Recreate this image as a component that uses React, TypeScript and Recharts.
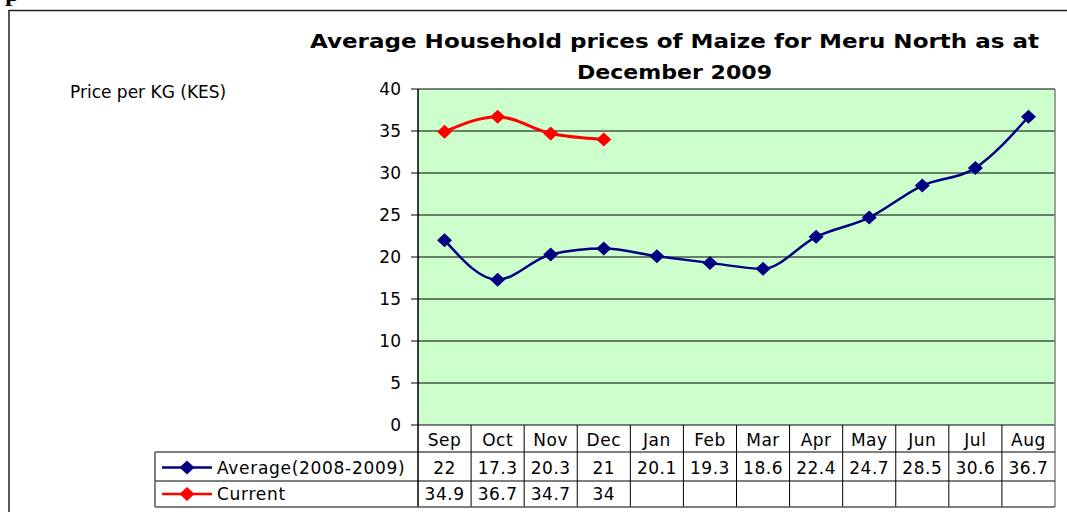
import React from "react";
import {
  CartesianGrid,
  ComposedChart,
  Line,
  XAxis,
  YAxis,
} from "recharts";

const months = ["Sep", "Oct", "Nov", "Dec", "Jan", "Feb", "Mar", "Apr", "May", "Jun", "Jul", "Aug"];
const averageValues = [22, 17.3, 20.3, 21, 20.1, 19.3, 18.6, 22.4, 24.7, 28.5, 30.6, 36.7];
const currentValues: (number | null)[] = [34.9, 36.7, 34.7, 34, null, null, null, null, null, null, null, null];
const yTicks = [0, 5, 10, 15, 20, 25, 30, 35, 40];

const averageName = "Average(2008-2009)";
const currentName = "Current";

const data = months.map((month, i) => ({
  month,
  average: averageValues[i],
  current: currentValues[i],
}));

// layout
const W = 1067;
const H = 512;
const PLOT_LEFT = 418;
const PLOT_RIGHT = 1055;
const PLOT_TOP = 89;
const PLOT_BOTTOM = 425;
const ROW1 = 452;
const ROW2 = 481;
const ROW3 = 507;
const LEGEND_LEFT = 155;
const COL_W = (PLOT_RIGHT - PLOT_LEFT) / months.length;

const NAVY = "#000080";
const RED = "#FF0000";
const FONT = "'DejaVu Sans', sans-serif";

const fmt = (v: number | null) => (v == null ? "" : String(v));

const Diamond = (props: any) => {
  const { cx, cy, fill } = props;
  if (cx == null || cy == null || props.value == null) return null;
  return (
    <path
      d={`M${cx},${cy - 7} L${cx + 7.5},${cy} L${cx},${cy + 7} L${cx - 7.5},${cy} Z`}
      fill={fill}
    />
  );
};

const TableTick = (props: any) => {
  const { x, payload } = props;
  const i = payload.index;
  const left = x - COL_W / 2;
  const textStyle = { fontFamily: FONT, fontSize: 17, letterSpacing: 0.5 };
  return (
    <g>
      <line x1={left} x2={left} y1={PLOT_BOTTOM} y2={ROW3} stroke="#000" strokeWidth={1} />
      <text x={x} y={(PLOT_BOTTOM + ROW1) / 2 + 1} textAnchor="middle" dominantBaseline="central" fill="#000" style={textStyle}>
        {payload.value}
      </text>
      <text x={x} y={(ROW1 + ROW2) / 2 + 1} textAnchor="middle" dominantBaseline="central" fill="#000" style={textStyle}>
        {fmt(averageValues[i])}
      </text>
      <text x={x} y={(ROW2 + ROW3) / 2} textAnchor="middle" dominantBaseline="central" fill="#000" style={textStyle}>
        {fmt(currentValues[i])}
      </text>
    </g>
  );
};

const LegendSample = ({ y, color }: { y: number; color: string }) => (
  <g>
    <line x1={162} x2={212} y1={y} y2={y} stroke={color} strokeWidth={2.5} />
    <path d={`M187,${y - 7} L194.5,${y} L187,${y + 7} L179.5,${y} Z`} fill={color} />
  </g>
);

const App = () => {
  return (
    <div style={{ position: "absolute", left: 0, top: 0, width: W, height: H, background: "#fff", overflow: "hidden" }}>
      <div style={{ position: "absolute", left: 0, top: 0 }}>
        <ComposedChart
          width={W}
          height={H}
          data={data}
          margin={{ top: PLOT_TOP, right: W - PLOT_RIGHT, left: PLOT_LEFT - 60, bottom: 5 }}
        >
          <CartesianGrid fill="#CCFFCC" stroke="#000" vertical={false} strokeOpacity={1} />
          <XAxis
            dataKey="month"
            scale="band"
            interval={0}
            axisLine={false}
            tickLine={false}
            height={H - PLOT_BOTTOM - 5}
            tick={<TableTick />}
          />
          <YAxis
            domain={[0, 40]}
            ticks={yTicks}
            width={60}
            tickSize={7}
            tickMargin={10}
            axisLine={{ stroke: "#000" }}
            tickLine={{ stroke: "#000" }}
            tick={{ fill: "#000", fontSize: 17, fontFamily: FONT }}
          />
          <Line
            type="monotone"
            dataKey="average"
            stroke={NAVY}
            strokeWidth={2.5}
            dot={<Diamond fill={NAVY} />}
            activeDot={false}
            isAnimationActive={false}
          />
          <Line
            type="monotone"
            dataKey="current"
            stroke={RED}
            strokeWidth={3}
            dot={<Diamond fill={RED} />}
            activeDot={false}
            isAnimationActive={false}
          />
        </ComposedChart>
      </div>
      <svg
        width={W}
        height={H}
        style={{ position: "absolute", left: 0, top: 0, pointerEvents: "none" }}
      >
        {/* frame of the embedded chart */}
        <path d={`M9,${H} V10.5 H${W}`} fill="none" stroke="#222" strokeWidth={1.5} />
        {/* tail of the page heading above the chart, cut by the crop */}
        <text x={5} y={1} style={{ fontFamily: "'Liberation Serif', serif", fontWeight: "bold", fontSize: 26 }}>
          p
        </text>
        <text
          x={310}
          y={48}
          textLength={729}
          lengthAdjust="spacingAndGlyphs"
          style={{ fontFamily: FONT, fontWeight: "bold", fontSize: 20 }}
        >
          Average Household prices of Maize for Meru North as at
        </text>
        <text
          x={577}
          y={79}
          textLength={195}
          lengthAdjust="spacingAndGlyphs"
          style={{ fontFamily: FONT, fontWeight: "bold", fontSize: 20 }}
        >
          December 2009
        </text>
        <text x={70} y={98} style={{ fontFamily: FONT, fontSize: 17 }}>
          Price per KG (KES)
        </text>
        {/* right plot border */}
        <line x1={PLOT_RIGHT} x2={PLOT_RIGHT} y1={PLOT_TOP} y2={ROW3} stroke="#808080" strokeWidth={1.5} />
        {/* table rules */}
        <line x1={PLOT_LEFT} x2={PLOT_LEFT} y1={PLOT_TOP} y2={ROW3} stroke="#000" strokeWidth={1} />
        <line x1={LEGEND_LEFT} x2={PLOT_RIGHT} y1={ROW1} y2={ROW1} stroke="#000" strokeWidth={1} />
        <line x1={LEGEND_LEFT} x2={PLOT_RIGHT} y1={ROW2} y2={ROW2} stroke="#000" strokeWidth={1} />
        <line x1={LEGEND_LEFT} x2={PLOT_RIGHT} y1={ROW3} y2={ROW3} stroke="#555" strokeWidth={1.5} />
        <line x1={LEGEND_LEFT} x2={LEGEND_LEFT} y1={ROW1} y2={ROW3} stroke="#555" strokeWidth={1.5} />
        <LegendSample y={(ROW1 + ROW2) / 2 + 1} color={NAVY} />
        <LegendSample y={(ROW2 + ROW3) / 2} color={RED} />
        <text x={217} y={(ROW1 + ROW2) / 2 + 1} dominantBaseline="central" style={{ fontFamily: FONT, fontSize: 17, letterSpacing: 0.7 }}>
          {averageName}
        </text>
        <text x={217} y={(ROW2 + ROW3) / 2} dominantBaseline="central" style={{ fontFamily: FONT, fontSize: 17, letterSpacing: 0.7 }}>
          {currentName}
        </text>
      </svg>
    </div>
  );
};

export default App;
